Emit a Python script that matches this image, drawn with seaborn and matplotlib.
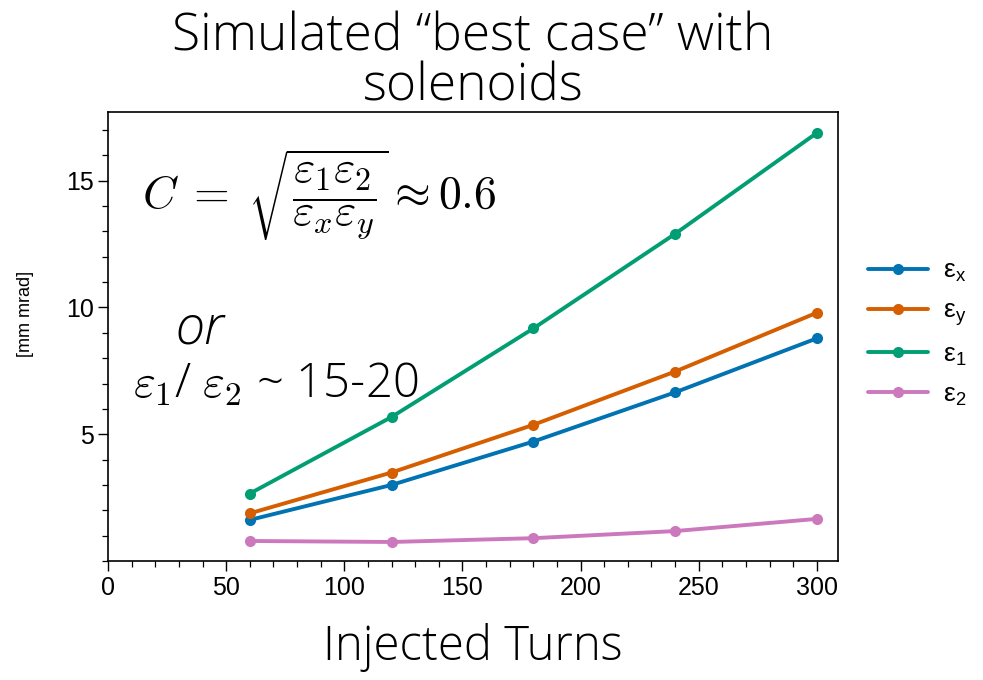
import numpy as np
import pandas as pd
import matplotlib
matplotlib.use("Agg")
import matplotlib.pyplot as plt
import seaborn as sns
from matplotlib.ticker import MultipleLocator

# Emittance growth versus number of injected turns
turns = [60, 120, 180, 240, 300]
eps_x = [1.62, 3.00, 4.71, 6.65, 8.78]
eps_y = [1.88, 3.49, 5.37, 7.47, 9.79]
eps_1 = [2.66, 5.68, 9.17, 12.90, 16.88]
eps_2 = [0.79, 0.75, 0.90, 1.18, 1.66]
series_labels = [r"$\mathregular{\epsilon_x}$", r"$\mathregular{\epsilon_y}$",
                 r"$\mathregular{\epsilon_1}$", r"$\mathregular{\epsilon_2}$"]

cb = sns.color_palette("colorblind")
colors = [cb[0], cb[3], cb[2], cb[4]]

frames = []
for lab, vals in zip(series_labels, [eps_x, eps_y, eps_1, eps_2]):
    frames.append(pd.DataFrame({"turns": turns, "value": vals, "series": lab}))
df = pd.concat(frames, ignore_index=True)

sns.set_theme(style="ticks")
plt.rcParams["font.family"] = ["Liberation Sans", "DejaVu Sans"]
plt.rcParams["mathtext.fontset"] = "cm"
for key in ["text.color", "axes.labelcolor", "xtick.color", "ytick.color",
            "axes.edgecolor"]:
    plt.rcParams[key] = "black"

GOTHIC = ["Open Sans", "DejaVu Sans"]
GW = "light"

fig = plt.figure(figsize=(9.83, 6.8), dpi=100)
ax = fig.add_axes([0.110, 0.175, 0.7425, 0.660])

sns.lineplot(data=df, x="turns", y="value", hue="series", palette=colors,
             marker="o", markersize=8, markeredgewidth=0, linewidth=2.8, ax=ax)

ax.set_xlim(0, 309)
ax.set_ylim(0, 17.7)
ax.xaxis.set_major_locator(MultipleLocator(50))
ax.xaxis.set_minor_locator(MultipleLocator(10))
ax.yaxis.set_minor_locator(MultipleLocator(1))
ax.set_yticks([5, 10, 15])
ax.tick_params(which="major", length=7, width=1.0, labelsize=18, color="black")
ax.tick_params(which="minor", length=4, width=0.9, color="black")
for s in ax.spines.values():
    s.set_visible(True)
    s.set_color("black")
    s.set_linewidth(1.2)

ax.set_ylabel("[mm mrad]", fontsize=13)
ax.yaxis.set_label_coords(-0.102, 0.55)
ax.set_xlabel("Injected Turns", fontsize=34, family=GOTHIC, fontweight=GW, labelpad=17)
ax.set_title("Simulated \u201cbest case\u201d with\nsolenoids", fontsize=37,
             family=GOTHIC, fontweight=GW, linespacing=0.95, pad=6)

ax.text(0.047, 0.815,
        r"$C\;=\;\sqrt{\dfrac{\varepsilon_1\varepsilon_2}{\varepsilon_x\varepsilon_y}}\approx 0.6$",
        transform=ax.transAxes, fontsize=33, va="center", ha="left")
ax.text(0.126, 0.515, "or", transform=ax.transAxes, fontsize=38, style="italic",
        family=GOTHIC, fontweight=GW, va="center", ha="center")
ax.text(0.034, 0.39, r"$\varepsilon_1$/ $\varepsilon_2$ ~ 15-20", transform=ax.transAxes,
        fontsize=34, family=GOTHIC, fontweight=GW, va="center", ha="left")

leg = ax.legend(loc="center left", bbox_to_anchor=(1.008, 0.507), frameon=False,
                fontsize=19, handlelength=2.3, labelspacing=0.55, handletextpad=0.55)
for line in leg.get_lines():
    line.set_linewidth(2.8)

fig.savefig("out.png", dpi=100)
